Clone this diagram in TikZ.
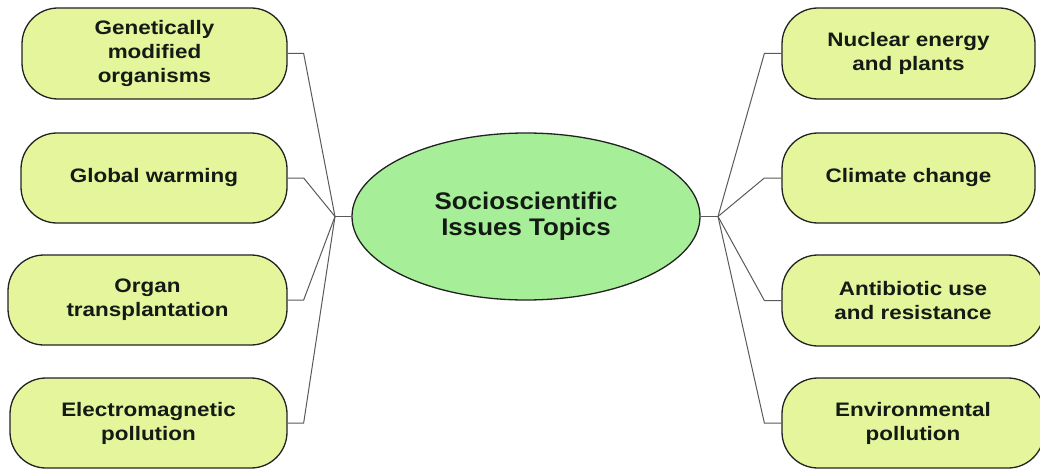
\documentclass[tikz,border=0pt]{standalone}
\usepackage{fontspec}
\setmainfont{Liberation Sans}
\newfontfamily\boxfont[FakeStretch=1.15]{Liberation Sans}
\newfontfamily\hubfont[FakeStretch=1.08]{Liberation Sans}
\usetikzlibrary{shapes.geometric}
\definecolor{boxfill}{HTML}{E4F59C}
\definecolor{hubfill}{HTML}{A6EE98}
\definecolor{linec}{HTML}{5A5A5A}
\definecolor{edgec}{HTML}{222222}
\definecolor{textc}{HTML}{141A14}
\begin{document}
\begin{tikzpicture}[x=1pt,y=-1pt,
  topic/.style={draw=edgec, line width=1.3pt, fill=boxfill, rounded corners=36pt,
    inner sep=0pt, align=center, text=textc,
    font=\boxfont\bfseries\fontsize{19.5}{24}\selectfont},
  hub/.style={ellipse, draw=edgec, line width=1.3pt, fill=hubfill, inner sep=0pt,
    minimum width=348pt, minimum height=167pt, align=center, text=textc,
    font=\hubfont\bfseries\fontsize{24}{26}\selectfont},
  link/.style={draw=linec, line width=1pt, line join=miter}]
\useasboundingbox (0,0) rectangle (1040,468);
\fill[white] (0,0) rectangle (1040,468);

% central node
\node[hub] (c) at (526,216.5) {Socioscientific\\Issues Topics};

% left topics
\node[topic, minimum width=265pt, minimum height=91pt] (b1) at (154.5,53.5) {Genetically\\modified\\organisms};
\node[topic, minimum width=266pt, minimum height=90pt] (b2) at (154,178) {Global warming};
\node[topic, minimum width=279pt, minimum height=90pt] (b3) at (147.5,300) {Organ\\transplantation};
\node[topic, minimum width=277pt, minimum height=90pt] (b4) at (148.5,423) {Electromagnetic\\pollution};

% right topics
\node[topic, minimum width=253pt, minimum height=91pt] (r1) at (908.5,53.5) {Nuclear energy\\and plants};
\node[topic, minimum width=253pt, minimum height=90pt] (r2) at (908.5,178) {Climate change};
\node[topic, minimum width=262pt, minimum height=91pt] (r3) at (913,300.5) {Antibiotic use\\and resistance};
\node[topic, minimum width=262pt, minimum height=90pt] (r4) at (913,423) {Environmental\\pollution};

% hubs
\coordinate (hl) at (335,216.5);
\coordinate (hr) at (718,216.5);

\draw[link] (c.west) -- (hl);
\draw[link] (c.east) -- (hr);

\draw[link] (b1.east) -- ++(16,0) -- (hl);
\draw[link] (b2.east) -- ++(16,0) -- (hl);
\draw[link] (b3.east) -- ++(16,0) -- (hl);
\draw[link] (b4.east) -- ++(16,0) -- (hl);

\draw[link] (r1.west) -- ++(-17,0) -- (hr);
\draw[link] (r2.west) -- ++(-17,0) -- (hr);
\draw[link] (r3.west) -- ++(-17,0) -- (hr);
\draw[link] (r4.west) -- ++(-17,0) -- (hr);
\end{tikzpicture}
\end{document}
